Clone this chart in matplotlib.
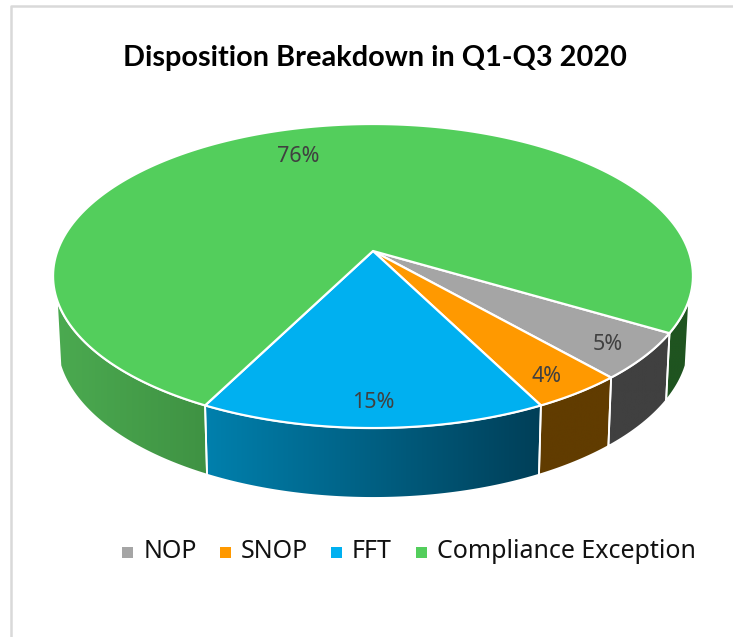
import numpy as np
import matplotlib
matplotlib.use('Agg')
import matplotlib.pyplot as plt
from matplotlib.colors import LinearSegmentedColormap
from matplotlib.patches import Polygon, Rectangle

categories = ['NOP', 'SNOP', 'FFT', 'Compliance Exception']
values = [5, 4, 15, 76]
title = 'Disposition Breakdown in Q1-Q3 2020'

top_colors = ['#A5A5A5', '#FF9900', '#00B0F0', '#53CE5C']
side_colors = [('#404040', '#404040'), ('#613C00', '#613C00'),
               ('#0080AD', '#003F58'), ('#4BAA50', '#3F9243')]
dark_green = '#1F5420'

# pie geometry, pixels
cx, cy = 373, 251
p = 0.1646
top_a, top_b = 315.6, 147.9
bot_a, bot_b, bot_y = 312, 152, 316
start = 30.6
wall_from, wall_to = 18, 162


def rim(deg, a, b, y0):
    t = np.radians(deg)
    w = 1 - p * np.sin(t)
    return np.column_stack((cx + a * np.cos(t) / w, y0 + b * np.sin(t) / w))


def side_wall(a0, a1, c0, c1, z):
    deg = np.linspace(a0, a1, 80)
    pts = np.vstack((rim(deg, top_a, top_b, cy), rim(deg, bot_a, bot_b, bot_y)[::-1]))
    poly = Polygon(pts, closed=True, fc='none', ec='none')
    ax.add_patch(poly)
    cmap = LinearSegmentedColormap.from_list('side', [c0, c1])
    x0, x1 = pts[:, 0].min(), pts[:, 0].max()
    im = ax.imshow(np.linspace(0, 1, 256).reshape(1, -1), cmap=cmap, aspect='auto',
                   extent=(x0, x1, pts[:, 1].max(), pts[:, 1].min()), zorder=z)
    im.set_clip_path(poly)
    ax.add_patch(Polygon(pts, closed=True, fc='none', ec='white', lw=1.3, zorder=z + 0.5))


plt.rcParams['font.family'] = ['Noto Sans', 'DejaVu Sans']
fig = plt.figure(figsize=(7.33, 6.37), dpi=100)
ax = fig.add_axes([0, 0, 1, 1])

# angles of the slice edges, clockwise on screen from the right
spans = np.array(values) / sum(values) * 360
edges = start + np.concatenate(([0], np.cumsum(spans)))

# side walls, only the part facing the viewer
for i in range(3):
    side_wall(edges[i], edges[i + 1], side_colors[i][0], side_colors[i][1], 2)
side_wall(edges[3], wall_to, side_colors[3][0], side_colors[3][1], 2)
side_wall(wall_from, edges[0], dark_green, dark_green, 2)

# top of the pie
for i in range(4):
    deg = np.linspace(edges[i], edges[i + 1], 200)
    pts = np.vstack(([[cx, cy]], rim(deg, top_a, top_b, cy)))
    ax.add_patch(Polygon(pts, closed=True, fc=top_colors[i], ec='white', lw=1.6,
                         joinstyle='round', zorder=4))

label_xy = [(608, 345), (547, 377), (373, 403), (298, 157)]
for (x, y), v in zip(label_xy, values):
    ax.text(x, y, f'{v}%', color='#404040', fontsize=15.5, ha='center', va='center', zorder=5)

ax.text(375, 58, title, fontsize=20.8, fontweight='bold', color='black',
        family=['Lato', 'DejaVu Sans'], ha='center', va='center')

# legend
marker_x = [122, 220, 331, 416]
text_x = [144, 241, 352, 437]
for i, name in enumerate(categories):
    ax.add_patch(Rectangle((marker_x[i], 547), 11, 11, fc=top_colors[i], ec='none'))
    ax.text(text_x[i], 551, name, fontsize=18, color='#111111', ha='left', va='center')

# frame of the screenshot
ax.plot([10.5, 10.5, 733], [637, 6, 6], color='#D9D9D9', lw=1.8)

ax.set_xlim(0, 733)
ax.set_ylim(637, 0)
ax.axis('off')
fig.savefig('out.png', dpi=100)
